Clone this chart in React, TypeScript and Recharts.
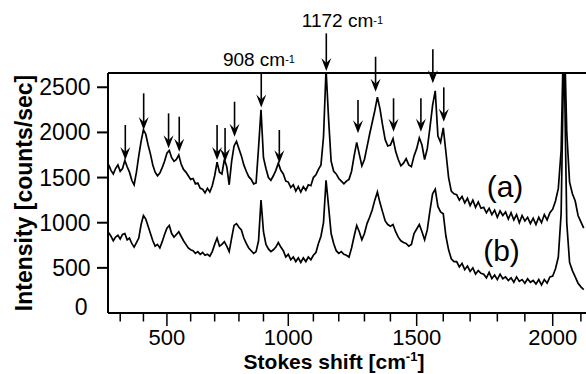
import React from 'react';
import { LineChart, Line, XAxis, YAxis, ReferenceLine, ReferenceDot } from 'recharts';

const FONT = '"Liberation Sans", Arial, Helvetica, sans-serif';

// The x axis of the original is linear in scattered wavelength (532 nm excitation),
// so Stokes shifts are placed through that transform on a linear numeric axis.
const NU0 = 18797;
const toAxis = (shift: number) => 1e7 / (NU0 - shift);
const fromAxis = (u: number) => NU0 - 1e7 / u;

const X_MIN_SHIFT = 247;
const X_MAX_SHIFT = 2118;
const Y_MAX = 2658;

const shifts = [
  250, 260, 270, 280, 290, 300, 310, 320, 330, 340,
  350, 360, 370, 380, 390, 400, 410, 420, 430, 440,
  450, 460, 470, 480, 490, 500, 510, 520, 530, 540,
  550, 560, 570, 580, 590, 600, 610, 620, 630, 640,
  650, 660, 670, 680, 690, 700, 710, 720, 730, 740,
  750, 760, 770, 780, 790, 800, 810, 820, 830, 840,
  850, 860, 870, 880, 890, 900, 910, 920, 930, 940,
  950, 960, 970, 980, 990, 1000, 1010, 1020, 1030, 1040,
  1050, 1060, 1070, 1080, 1090, 1100, 1110, 1120, 1130, 1140,
  1150, 1160, 1170, 1180, 1190, 1200, 1210, 1220, 1230, 1240,
  1250, 1260, 1270, 1280, 1290, 1300, 1310, 1320, 1330, 1340,
  1350, 1360, 1370, 1380, 1390, 1400, 1410, 1420, 1430, 1440,
  1450, 1460, 1470, 1480, 1490, 1500, 1510, 1520, 1530, 1540,
  1550, 1560, 1570, 1580, 1590, 1600, 1610, 1620, 1630, 1640,
  1650, 1660, 1670, 1680, 1690, 1700, 1710, 1720, 1730, 1740,
  1750, 1760, 1770, 1780, 1790, 1800, 1810, 1820, 1830, 1840,
  1850, 1860, 1870, 1880, 1890, 1900, 1910, 1920, 1930, 1940,
  1950, 1960, 1970, 1980, 1990, 2000, 2010, 2020, 2030, 2040,
  2050, 2060, 2070, 2080, 2090, 2100, 2110,
];

const seriesA = [
  1640, 1580, 1540, 1600, 1640, 1570, 1600, 1690, 1620, 1560,
  1470, 1420, 1560, 1740, 1900, 2030, 1980, 1860, 1760, 1640,
  1560, 1520, 1550, 1610, 1680, 1770, 1800, 1720, 1680, 1700,
  1750, 1650, 1590, 1560, 1520, 1480, 1490, 1430, 1440, 1380,
  1370, 1330, 1380, 1340, 1410, 1520, 1670, 1560, 1540, 1700,
  1620, 1420, 1680, 1850, 1900, 1820, 1740, 1640, 1570, 1510,
  1480, 1430, 1440, 1830, 2250, 1720, 1600, 1500, 1470, 1520,
  1580, 1660, 1580, 1540, 1460, 1450, 1390, 1420, 1350, 1400,
  1340, 1400, 1360, 1420, 1410, 1500, 1530, 1590, 1640, 1950,
  2700, 2150, 1680, 1570, 1540, 1490, 1460, 1430, 1460, 1480,
  1570, 1740, 1890, 1760, 1630, 1700, 1840, 1980, 2110, 2240,
  2390, 2260, 2080, 1920, 1850, 1860, 1930, 1790, 1700, 1630,
  1660, 1710, 1640, 1620, 1740, 1820, 1940, 1860, 1700, 1820,
  2050, 2300, 2460, 1960, 1890, 2050, 1780, 1500, 1350, 1320,
  1310, 1250, 1290, 1220, 1270, 1190, 1250, 1170, 1230, 1160,
  1170, 1110, 1160, 1090, 1140, 1060, 1130, 1080, 1120, 1040,
  1110, 1030, 1090, 1000, 1080, 1020, 1060, 990, 1050, 980,
  1060, 1000, 1090, 1030, 1110, 1150, 1240, 1380, 1800, 3300,
  2000, 1450, 1320, 1240, 1080, 1010, 940,
];

const seriesB = [
  890, 850, 800, 840, 860, 820, 870, 880, 810, 830,
  770, 730, 780, 830, 980, 1080, 1040, 960, 880, 800,
  740, 760, 720, 790, 870, 940, 970, 880, 840, 870,
  900, 850, 800, 760, 720, 700, 690, 660, 680, 650,
  670, 640, 650, 630, 680, 760, 830, 740, 760, 790,
  740, 680, 830, 970, 990, 950, 920, 830, 770, 720,
  690, 660, 680, 800, 1250, 900, 760, 710, 680, 700,
  730, 780, 730, 690, 620, 650, 590, 620, 570, 610,
  560, 610, 570, 620, 590, 640, 670, 770, 850, 1000,
  1470, 1180, 880, 770, 690, 660, 680, 650, 640, 620,
  720, 850, 970, 900, 810, 880, 990, 1060, 1140, 1250,
  1340, 1220, 1120, 1020, 980, 960, 980, 900, 840, 800,
  780, 770, 740, 760, 880, 930, 980, 900, 810, 920,
  1130, 1320, 1370, 1180, 1120, 1100, 850, 700, 600, 570,
  570, 510, 550, 480, 520, 460, 500, 430, 470, 440,
  430, 390, 450, 380, 420, 370, 430, 380, 400, 360,
  390, 340, 400, 350, 370, 330, 380, 340, 360, 320,
  370, 310, 370, 330, 400, 410, 490, 620, 1100, 3000,
  1000, 560, 470, 400, 330, 290, 260,
];

const xTickShifts = [300, 400, 500, 600, 700, 800, 900, 1000, 1100, 1200, 1300, 1400, 1500, 1600, 1700, 1800, 1900, 2000, 2100];
const xMajorShifts = [500, 1000, 1500, 2000];
const yTicks = [0, 500, 1000, 1500, 2000, 2500];

// peak markers: shift position, arrow tail value, arrow tip value
const arrows = [
  { shift: 322, from: 2082, to: 1694 },
  { shift: 401, from: 2433, to: 2027 },
  { shift: 507, from: 2211, to: 1824 },
  { shift: 552, from: 2174, to: 1786 },
  { shift: 710, from: 2082, to: 1694 },
  { shift: 743, from: 2049, to: 1676 },
  { shift: 782, from: 2340, to: 1952 },
  { shift: 891, from: 2654, to: 2276 },
  { shift: 964, from: 2027, to: 1658 },
  { shift: 1151, from: 3097, to: 2680 },
  { shift: 1275, from: 2359, to: 1990 },
  { shift: 1343, from: 2838, to: 2451 },
  { shift: 1412, from: 2378, to: 2008 },
  { shift: 1516, from: 2378, to: 2008 },
  { shift: 1561, from: 2920, to: 2544 },
  { shift: 1602, from: 2499, to: 2118 },
];

const peakLabels = [
  { shift: 734, value: 2739, text: '908 cm', sup: '-1' },
  { shift: 1054, value: 3170, text: '1172 cm', sup: '-1' },
];

const traceLabels = [
  { shift: 1761, value: 1285, text: '(a)' },
  { shift: 1748, value: 576, text: '(b)' },
];

const rows = shifts.map((s, i) => ({ u: toAxis(s), a: seriesA[i], b: seriesB[i] }));

const XTick = (p: any) => {
  const { x, y, payload } = p;
  const s = Math.round(fromAxis(payload.value));
  const major = xMajorShifts.includes(s);
  return (
    <g>
      <line x1={x} y1={y} x2={x} y2={y + (major ? 13 : 8.5)} stroke="#000" strokeWidth={1.5} />
      {major && (
        <text x={x} y={y + 32.3} textAnchor="middle" fontFamily={FONT} fontSize={22} fill="#000">
          {s}
        </text>
      )}
    </g>
  );
};

const YTick = (p: any) => {
  const { x, y, payload } = p;
  const v = payload.value;
  if (v === 0) {
    return (
      <text x={x - 20.5} y={y + 2} textAnchor="end" fontFamily={FONT} fontSize={23} fill="#000">
        0
      </text>
    );
  }
  return (
    <g>
      <line x1={x - 11} y1={y} x2={x} y2={y} stroke="#000" strokeWidth={2} />
      <text x={x - 17.5} y={y + 8} textAnchor="end" fontFamily={FONT} fontSize={23} fill="#000">
        {v}
      </text>
    </g>
  );
};

const YTitle = (props: any) => {
  const vb = props.viewBox || { x: 0, y: 73, width: 108, height: 240 };
  const cx = vb.x + 31.5;
  const cy = vb.y + vb.height / 2;
  return (
    <text x={cx} y={cy} transform={`rotate(-90 ${cx} ${cy})`} textAnchor="middle" fontFamily={FONT} fontWeight="bold" fontSize={23} fill="#000">
      Intensity [counts/sec]
    </text>
  );
};

const XTitle = (props: any) => {
  const vb = props.viewBox || { x: 108, y: 313, width: 478, height: 61 };
  const cx = vb.x + vb.width / 2 - 13;
  const cy = vb.y + 56.3;
  return (
    <text x={cx} y={cy} textAnchor="middle" fontFamily={FONT} fontWeight="bold" fontSize={21} fill="#000">
      <tspan>Stokes shift [cm</tspan>
      <tspan dy={-8} fontSize={13}>-1</tspan>
      <tspan dy={8}>]</tspan>
    </text>
  );
};

const ArrowShape = (p: any) => {
  const { x1, y1, x2, y2 } = p;
  const headLen = 13;
  const half = 5;
  const notch = 8;
  return (
    <g>
      <line x1={x1} y1={y1} x2={x2} y2={y2 - notch} stroke="#000" strokeWidth={1.6} />
      <polygon
        points={`${x2},${y2} ${x2 - half},${y2 - headLen} ${x2},${y2 - notch} ${x2 + half},${y2 - headLen}`}
        fill="#000"
      />
    </g>
  );
};

const makePeakLabel = (text: string, sup: string) => (p: any) => (
  <text x={p.cx} y={p.cy} textAnchor="start" fontFamily={FONT} fontSize={19} fill="#000">
    <tspan>{text}</tspan>
    <tspan dy={-3} fontSize={11}>{sup}</tspan>
  </text>
);

const makeTraceLabel = (text: string) => (p: any) => (
  <text x={p.cx} y={p.cy} textAnchor="start" fontFamily={FONT} fontSize={30} fill="#000">
    {text}
  </text>
);

export default function App() {
  return (
    <div style={{ position: 'absolute', left: 0, top: 0, width: 586, height: 374, background: '#fff' }}>
      <LineChart width={586} height={374} data={rows} margin={{ top: 73, right: 0, bottom: 0, left: 0 }}>
        <XAxis
          dataKey="u"
          type="number"
          domain={[toAxis(X_MIN_SHIFT), toAxis(X_MAX_SHIFT)]}
          allowDataOverflow
          ticks={xTickShifts.map(toAxis)}
          interval={0}
          tick={<XTick />}
          tickLine={false}
          tickSize={0}
          tickMargin={0}
          height={61}
          axisLine={{ stroke: '#000', strokeWidth: 2 }}
          label={<XTitle />}
        />
        <YAxis
          type="number"
          domain={[0, Y_MAX]}
          allowDataOverflow
          ticks={yTicks}
          interval={0}
          tick={<YTick />}
          tickLine={false}
          tickSize={0}
          tickMargin={0}
          width={108}
          axisLine={{ stroke: '#000', strokeWidth: 2 }}
          label={<YTitle />}
        />
        <ReferenceLine y={Y_MAX} stroke="#000" strokeWidth={2} />
        <Line type="linear" dataKey="a" stroke="#000" strokeWidth={1.7} dot={false} isAnimationActive={false} />
        <Line type="linear" dataKey="b" stroke="#000" strokeWidth={1.7} dot={false} isAnimationActive={false} />
        {arrows.map((a, i) => (
          <ReferenceLine
            key={`arr${i}`}
            segment={[{ x: toAxis(a.shift), y: a.from }, { x: toAxis(a.shift), y: a.to }]}
            ifOverflow="visible"
            shape={ArrowShape}
          />
        ))}
        {peakLabels.map((l, i) => (
          <ReferenceDot key={`pl${i}`} x={toAxis(l.shift)} y={l.value} r={1} ifOverflow="visible" shape={makePeakLabel(l.text, l.sup)} />
        ))}
        {traceLabels.map((l, i) => (
          <ReferenceDot key={`tl${i}`} x={toAxis(l.shift)} y={l.value} r={1} ifOverflow="visible" shape={makeTraceLabel(l.text)} />
        ))}
      </LineChart>
    </div>
  );
}
